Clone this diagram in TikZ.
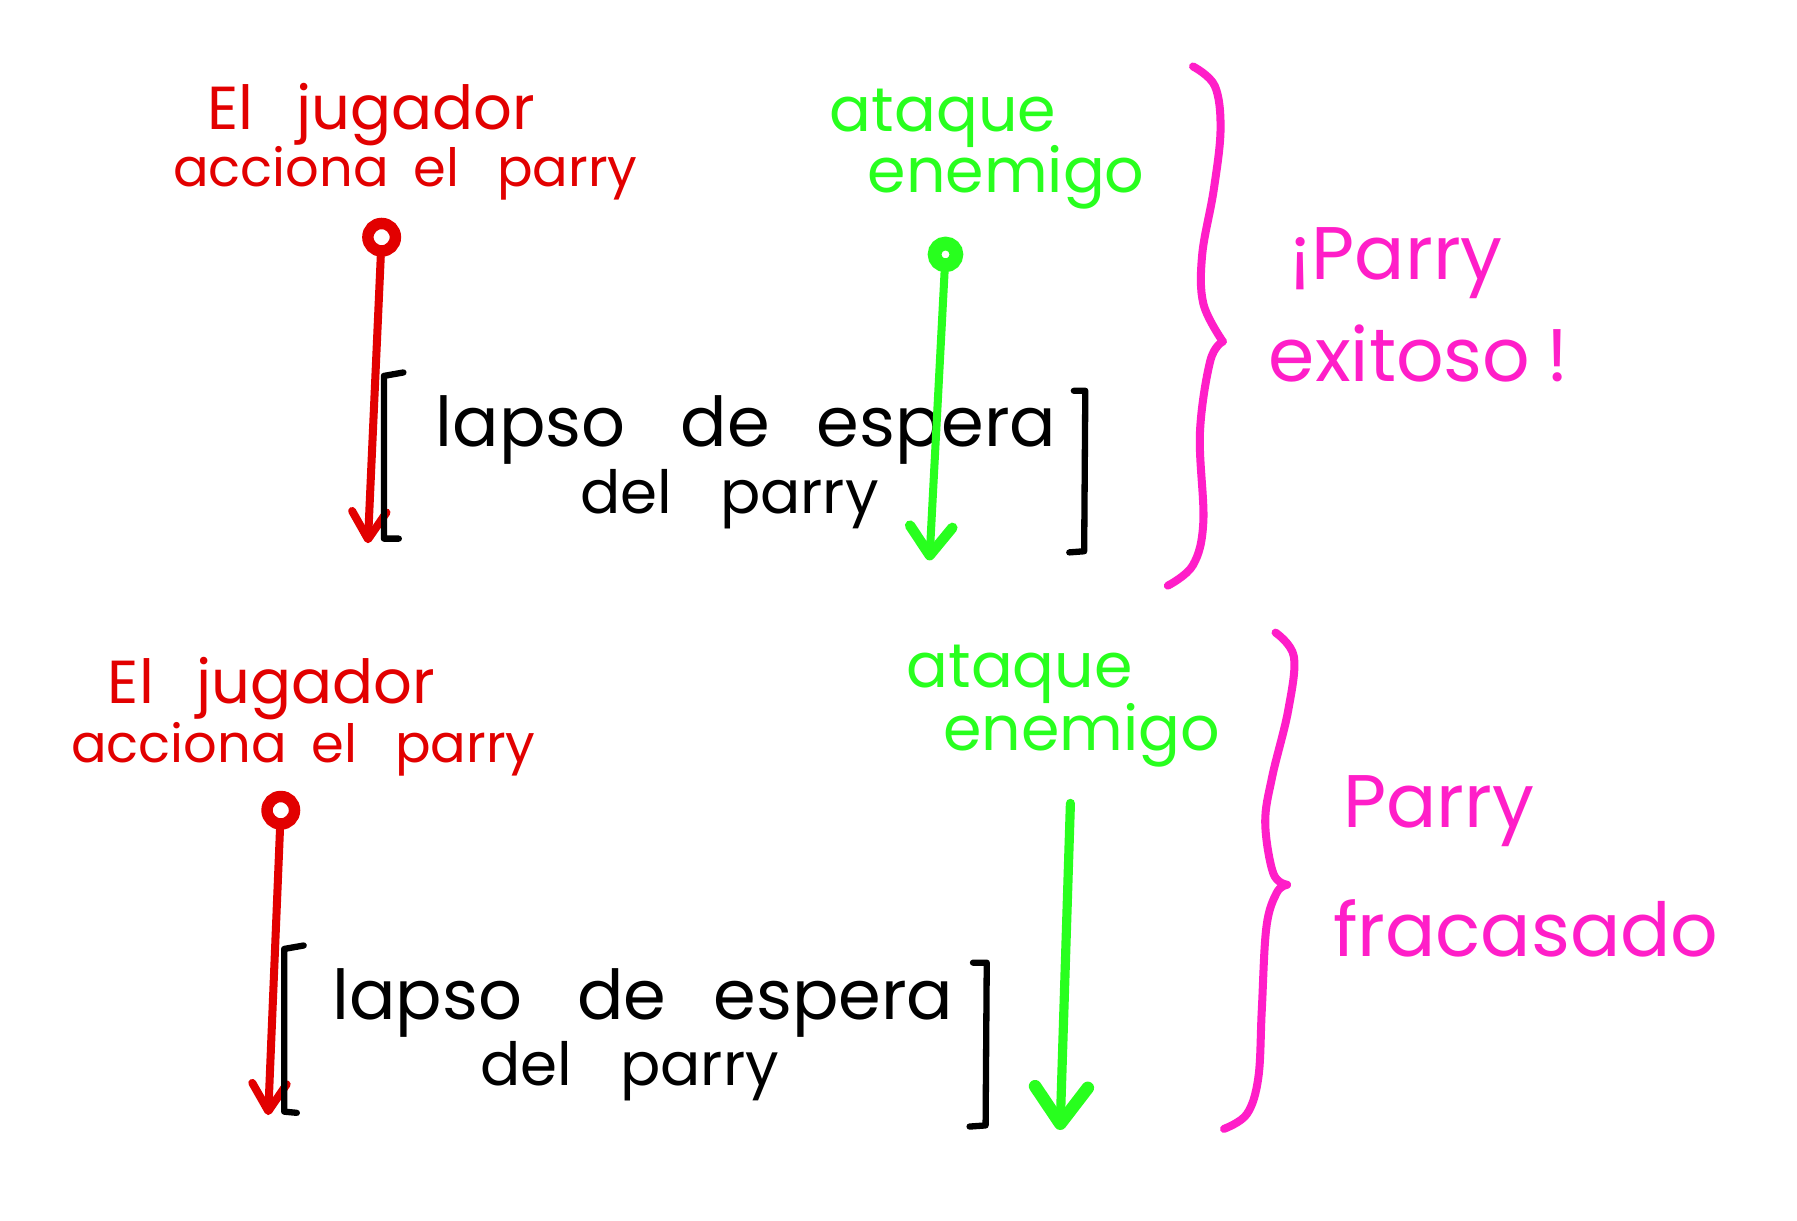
\documentclass[tikz,border=0pt]{standalone}
\usepackage{fontspec}
\usetikzlibrary{arrows.meta}
\newfontfamily\handfont{Poppins}
\newcommand\wgap[1]{\hspace{#1pt}}
\definecolor{hred}{RGB}{226,0,0}
\definecolor{hgreen}{RGB}{40,255,30}
\definecolor{hpink}{RGB}{255,30,200}
\tikzset{
  lbl/.style={inner sep=0pt, anchor=base west},
  redtxtA/.style={lbl, text=hred, font=\handfont\fontsize{53}{60}\selectfont},
  redtxtB/.style={lbl, text=hred, font=\handfont\fontsize{46}{60}\selectfont},
  greentxt/.style={lbl, text=hgreen, font=\handfont\fontsize{54}{60}\selectfont},
  blacktxtA/.style={lbl, text=black, font=\handfont\fontsize{60}{60}\selectfont},
  blacktxtB/.style={lbl, text=black, font=\handfont\fontsize{52}{60}\selectfont},
  pinktxt/.style={lbl, text=hpink, font=\handfont\fontsize{65}{70}\selectfont},
  redring/.style={circle, draw=hred, line width=10pt, minimum size=24pt, inner sep=0pt},
  greenring/.style={circle, draw=hgreen, line width=12pt, minimum size=19pt, inner sep=0pt},
  redarrow/.style={draw=hred, line width=7pt, line cap=round,
    -{Straight Barb[round, length=24pt, width=30pt]}},
  greenarrow/.style={draw=hgreen, line width=7pt, line cap=round,
    -{Straight Barb[round, length=25pt, width=37pt, line width=9pt]}},
  greenarrowbig/.style={draw=hgreen, line width=8pt, line cap=round,
    -{Straight Barb[round, length=32pt, width=46pt, line width=11pt]}},
  brk/.style={draw=black, line width=5.5pt, line cap=round, line join=round},
  brace/.style={draw=hpink, line width=7pt, line cap=round, line join=round}
}
\begin{document}
\begin{tikzpicture}[x=1pt, y=-1pt]
\fill[white] (0,0) rectangle (1568,1065);
\useasboundingbox (0,0) rectangle (1568,1065);

% ---------- top: successful parry ----------
\node[redtxtA] (r1a) at (181,113) {El \wgap{23}jugador};
\node[redtxtB] (r1b) at (151,163) {acciona \wgap{9}el \wgap{21}parry};
\node[greentxt] (g1a) at (724,115) {ataque};
\node[greentxt] (g1b) at (757,168) {enemigo};

\node[redring] (rc1) at (333,207) {};
\coordinate (rt1) at (321,474);
\draw[redarrow] (rc1) -- (rt1);

\node[blacktxtA] (b1a) at (380,390) {lapso \wgap{32}de \wgap{25}espera};
\node[blacktxtB] (b1b) at (506,448) {del \wgap{28}parry};
\draw[brk] (352,325) -- (335,328) -- (335,470) -- (348,470);
\draw[brk] (937,341) -- (947,341) -- (946,481) -- (933,482);

\node[greenring] (gc1) at (825,222) {};
\coordinate (gt1) at (811,489);
\draw[greenarrow] (gc1) -- (gt1);

\draw[brace] plot[smooth, tension=0.6] coordinates {(1041,58) (1060,75) (1065,113) (1059,166) (1049,222) (1050,265) (1067,298)};
\draw[brace] plot[smooth, tension=0.6] coordinates {(1067,298) (1056,315) (1047,378) (1050,455) (1041,493) (1019,511)};

\node[pinktxt] (p1a) at (1125,244) {¡Parry};
\node[pinktxt] (p1b) at (1107,333) {exitoso\wgap{14}!};

% ---------- bottom: failed parry ----------
\node[redtxtA] (r2a) at (94,614) {El \wgap{23}jugador};
\node[redtxtB] (r2b) at (62,665) {acciona \wgap{9}el \wgap{21}parry};
\node[greentxt] (g2a) at (791,600) {ataque};
\node[greentxt] (g2b) at (823,655) {enemigo};

\node[redring] (rc2) at (245,707) {};
\coordinate (rt2) at (234,973);
\draw[redarrow] (rc2) -- (rt2);

\node[blacktxtA] (b2a) at (290,890) {lapso \wgap{32}de \wgap{25}espera};
\node[blacktxtB] (b2b) at (419,947) {del \wgap{28}parry};
\draw[brk] (265,825) -- (248,828) -- (248,970) -- (259,971);
\draw[brk] (849,840) -- (861,840) -- (860,982) -- (846,983);

\coordinate (gs2) at (934,701);
\coordinate (gt2) at (925,986);
\draw[greenarrowbig] (gs2) -- (gt2);

\draw[brace] plot[smooth, tension=0.6] coordinates {(1113,552) (1129,573) (1124,620) (1110,678) (1104,718) (1111,762) (1123,772)};
\draw[brace] plot[smooth, tension=0.6] coordinates {(1123,772) (1114,779) (1105,809) (1101,881) (1098,940) (1088,972) (1068,985)};

\node[pinktxt] (p2a) at (1172,722) {Parry};
\node[pinktxt] (p2b) at (1163,835) {fracasado};
\end{tikzpicture}
\end{document}
